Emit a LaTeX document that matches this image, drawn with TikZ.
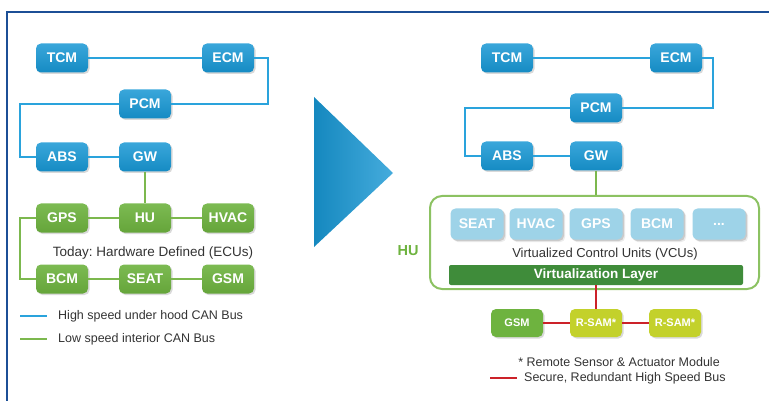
\documentclass[tikz,border=0pt]{standalone}
\usepackage{fontspec}
\setmainfont{Liberation Sans}
\usetikzlibrary{shadows,calc}
\frenchspacing

\definecolor{frameblue}{HTML}{1C4F96}
\definecolor{ecublue}{HTML}{1797D4}
\definecolor{busblue}{HTML}{2AA3DC}
\definecolor{ecugreen}{HTML}{6EB33F}
\definecolor{busgreen}{HTML}{7CB84E}
\definecolor{hugreen}{HTML}{8CC262}
\definecolor{vcublue}{HTML}{9ED3E8}
\definecolor{layergreen}{HTML}{3F8C3A}
\definecolor{samyellow}{HTML}{C3D12B}
\definecolor{busred}{HTML}{CC2229}
\definecolor{txtgray}{HTML}{333333}

\tikzset{
  ecu/.style={rounded corners=5pt,inner sep=0pt,minimum width=52pt,minimum height=29pt,
    text=white,font=\bfseries\fontsize{14}{16}\selectfont,
    drop shadow={opacity=.3,shadow xshift=1.5pt,shadow yshift=-1.5pt}},
  hsecu/.style={ecu,top color=ecublue!85!white,bottom color=ecublue!92!black},
  lsecu/.style={ecu,top color=ecugreen!90!white,bottom color=ecugreen!92!black},
  vcu/.style={ecu,minimum width=53pt,minimum height=31pt,fill=vcublue,drop shadow={opacity=.15}},
  samecu/.style={ecu,minimum height=28pt,font=\bfseries\fontsize{11}{13}\selectfont},
  hsbus/.style={draw=busblue,line width=2.2pt},
  lsbus/.style={draw=busgreen,line width=2.2pt},
  sbus/.style={draw=busred,line width=2.2pt},
  note/.style={text=txtgray,font=\fontsize{12.5}{14}\selectfont,inner sep=0pt},
}

\begin{document}
\begin{tikzpicture}[x=1pt,y=-1pt]
\useasboundingbox (0,0) rectangle (769,401);

% frame
\draw [frameblue,line width=1.5pt] (7,401) -- (7,12) -- (769,12);

% today: hardware defined
\node (TCM) at (62,58) [hsecu] {TCM};
\node (ECM) at (228,58) [hsecu] {ECM};
\node (PCM) at (145,104) [hsecu] {PCM};
\node (ABS) at (62,157) [hsecu] {ABS};
\node (GW) at (145,157) [hsecu] {GW};
\node (GPS) at (62,218) [lsecu] {GPS};
\node (HU) at (145,218) [lsecu] {HU};
\node (HVAC) at (228,218) [lsecu] {HVAC};
\node (ECUs) at (153,253) [note,font=\fontsize{13.5}{15}\selectfont] {Today: Hardware Defined (ECUs)};
\node (BCM) at (62,279) [lsecu] {BCM};
\node (SEAT) at (145,279) [lsecu] {SEAT};
\node (GSM) at (228,279) [lsecu] {GSM};

\draw [hsbus] (TCM) -- (ECM);
\draw [hsbus] (ECM.east) -- ++(14,0) |- (PCM.east);
\draw [hsbus] (PCM.west) -| ($(ABS.west)+(-16,0)$) -- (ABS.west);
\draw [hsbus] (ABS) -- (GW);
\draw [lsbus] (GW) -- (HU);
\draw [lsbus] (GPS) -- (HU);
\draw [lsbus] (HU) -- (HVAC);
\draw [lsbus] (GPS.west) -- ++(-16,0) |- (BCM.west);
\draw [lsbus] (BCM) -- (SEAT);
\draw [lsbus] (SEAT) -- (GSM);

% legend left
\coordinate (hsA) at (20,316);
\coordinate (hsB) at (47,316);
\coordinate (lsA) at (20,339);
\coordinate (lsB) at (47,339);
\draw [hsbus] (hsA) -- (hsB);
\draw [lsbus] (lsA) -- (lsB);
\node (hslabel) at (58,316) [note,anchor=west] {High speed under hood CAN Bus};
\node (lslabel) at (58,339) [note,anchor=west] {Low speed interior CAN Bus};

% arrow
\shade [left color=ecublue!90!black,right color=ecublue!80!white]
  (314,97) -- (393,173) -- (314,247) -- cycle;

% tomorrow: virtualized
\node (TCMv) at (507,58) [hsecu] {TCM};
\node (ECMv) at (676,58) [hsecu] {ECM};
\node (PCMv) at (596,108) [hsecu] {PCM};
\node (ABSv) at (507,156) [hsecu] {ABS};
\node (GWv) at (596,156) [hsecu] {GW};

\draw [hsbus] (TCMv) -- (ECMv);
\draw [hsbus] (ECMv.east) -- ++(11,0) |- (PCMv.east);
\draw [hsbus] (PCMv.west) -| ($(ABSv.west)+(-16,0)$) -- (ABSv.west);
\draw [hsbus] (ABSv) -- (GWv);

\node (HUbox) at (594.5,242.5) [draw=hugreen,line width=2pt,fill=white,rounded corners=12pt,
  minimum width=329pt,minimum height=93pt] {};
\draw [lsbus] (GWv) -- (GWv |- HUbox.north);
\node (HUlabel) at (408,251) [text=ecugreen,font=\bfseries\fontsize{14.5}{16}\selectfont] {HU};

\node (SEATv) at (477,224) [vcu] {SEAT};
\node (HVACv) at (536,224) [vcu] {HVAC};
\node (GPSv) at (596,224) [vcu] {GPS};
\node (BCMv) at (657,224) [vcu] {BCM};
\node (MOREv) at (719,224) [vcu] {...};
\node (VCUs) at (605,254) [note,font=\fontsize{13}{15}\selectfont] {Virtualized Control Units (VCUs)};
\node (vlayer) at (596,275) [fill=layergreen,rounded corners=2pt,minimum width=294pt,minimum height=20pt,
  inner sep=0pt,text=white,font=\bfseries\fontsize{13.5}{15}\selectfont] {Virtualization Layer};

\node (GSMv) at (517,323) [samecu,fill=ecugreen] {GSM};
\node (RSAMa) at (596,323) [samecu,fill=samyellow] {R-SAM*};
\node (RSAMb) at (675,323) [samecu,fill=samyellow] {R-SAM*};

\draw [sbus] (vlayer) -- (RSAMa);
\draw [sbus] (GSMv) -- (RSAMa);
\draw [sbus] (RSAMa) -- (RSAMb);

% legend right
\node (rsam) at (619,362) [note] {* Remote Sensor \& Actuator Module};
\coordinate (sbA) at (490,378);
\coordinate (sbB) at (517,378);
\draw [sbus] (sbA) -- (sbB);
\node (sblabel) at (524,378) [note,anchor=west] {Secure, Redundant High Speed Bus};

\end{tikzpicture}
\end{document}
